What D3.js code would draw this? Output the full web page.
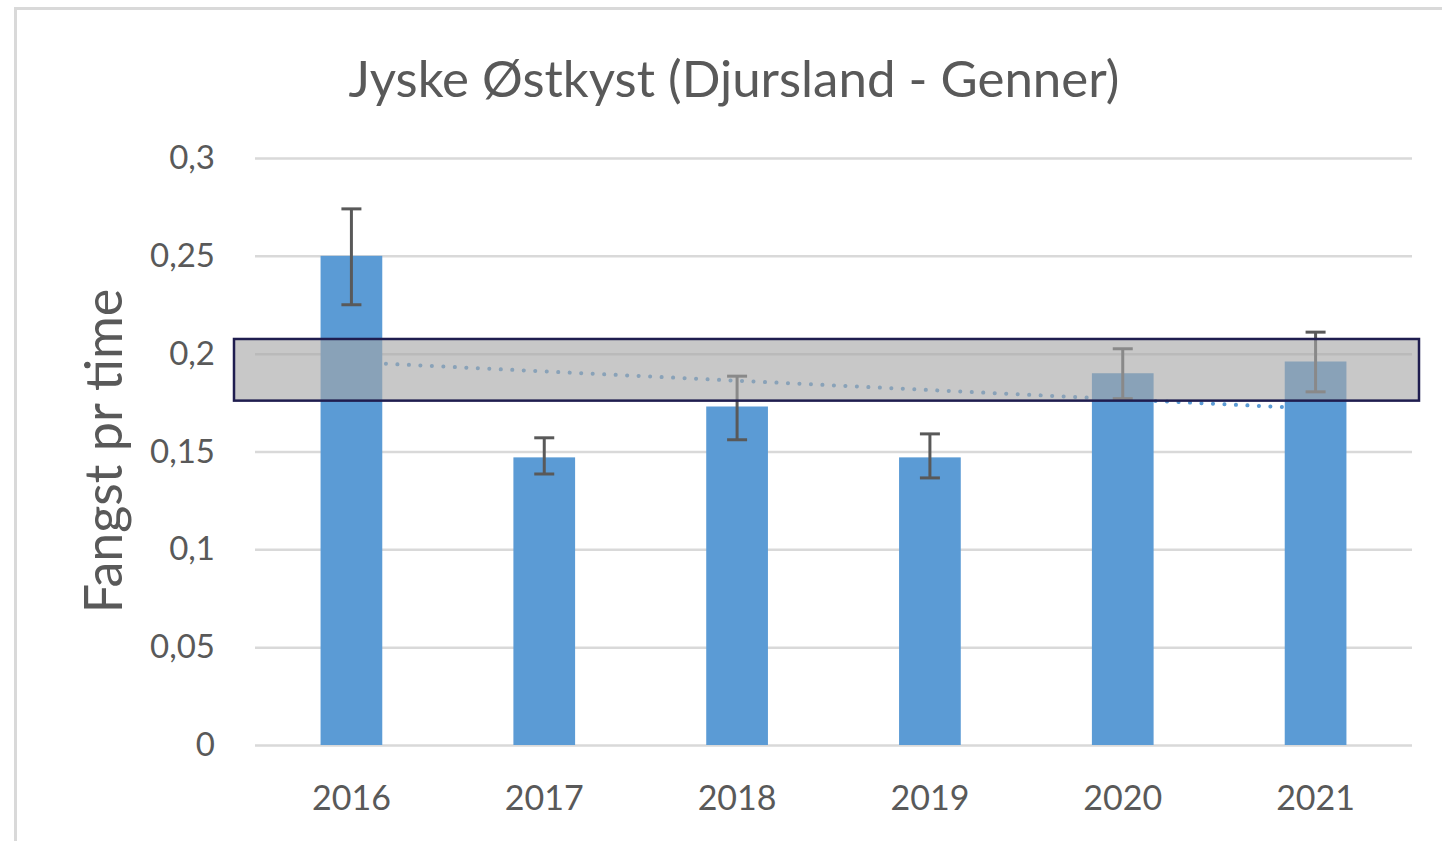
<!DOCTYPE html>
<html>
<head>
<meta charset="utf-8">
<script src="https://cdn.jsdelivr.net/npm/d3@7"></script>
<style>
  body { margin: 0; background: #fff; }
  svg { display: block; }
  text { font-family: Lato, "Open Sans", sans-serif; fill: #595959; }
</style>
</head>
<body>
<svg id="chart" width="1442" height="841"></svg>
<script>
// data
const years = ["2016", "2017", "2018", "2019", "2020", "2021"];
const catchPerHour = [0.25, 0.147, 0.173, 0.147, 0.19, 0.196];
const errUpper = [0.274, 0.157, 0.1885, 0.159, 0.2025, 0.211];
const errLower = [0.225, 0.1385, 0.156, 0.1365, 0.177, 0.1805];
const trendYears = ["2016", "2021"];
const trendValues = [0.1957, 0.1719];
const bandRange = [0.176, 0.2075];
const yTicks = [0, 0.05, 0.1, 0.15, 0.2, 0.25, 0.3];

const blue = "#5b9bd5";
const grid = "#d9d9d9";

const svg = d3.select("#chart");

// ramme
svg.append("rect")
    .attr("x", 15.5).attr("y", 8.5)
    .attr("width", 1460).attr("height", 860)
    .attr("fill", "#fff")
    .attr("stroke", grid)
    .attr("stroke-width", 3);

const plot = { left: 255, right: 1412, top: 158, bottom: 745 };

const x = d3.scaleBand()
    .domain(years)
    .range([plot.left, plot.right])
    .paddingInner(0.68)
    .paddingOuter(0.34);

const y = d3.scaleLinear()
    .domain([0, 0.3])
    .range([plot.bottom, plot.top]);

const da = d3.formatLocale({ decimal: ",", thousands: ".", grouping: [3], currency: ["", " kr"] });
const fmt = da.format("~g");

// gitterlinjer og y-akse
const yAxis = svg.append("g")
    .attr("transform", `translate(${plot.left},0)`)
    .call(d3.axisLeft(y).tickValues(yTicks).tickFormat(fmt).tickSize(-(plot.right - plot.left)).tickPadding(40));
yAxis.select(".domain").remove();
yAxis.selectAll(".tick line").attr("stroke", grid).attr("stroke-width", 2.5);
yAxis.selectAll(".tick text")
    .attr("font-size", 33)
    .attr("font-family", "Lato, sans-serif")
    .attr("fill", "#595959");

// x-akse
const xAxis = svg.append("g")
    .attr("transform", `translate(0,${plot.bottom})`)
    .call(d3.axisBottom(x).tickSize(0).tickPadding(41));
xAxis.select(".domain").remove();
xAxis.selectAll(".tick text")
    .attr("font-size", 34)
    .attr("font-family", "Lato, sans-serif")
    .attr("fill", "#595959");

// trendlinje (bag søjlerne)
const trendLine = d3.line()
    .x((d, i) => x(trendYears[i]) + x.bandwidth() / 2)
    .y(d => y(d));
svg.append("path")
    .datum(trendValues)
    .attr("d", trendLine)
    .attr("fill", "none")
    .attr("stroke", blue)
    .attr("stroke-width", 4)
    .attr("stroke-linecap", "round")
    .attr("stroke-dasharray", "0.1 11.4");

// søjler
svg.append("g")
    .selectAll("rect")
    .data(years)
    .join("rect")
    .attr("x", d => x(d))
    .attr("width", x.bandwidth())
    .attr("y", (d, i) => y(catchPerHour[i]))
    .attr("height", (d, i) => y(0) - y(catchPerHour[i]))
    .attr("fill", blue);

// fejlsøjler
const eb = svg.append("g")
    .attr("stroke", "#595959")
    .attr("stroke-width", 3)
    .selectAll("g")
    .data(years)
    .join("g")
    .attr("transform", d => `translate(${x(d) + x.bandwidth() / 2},0)`);
eb.append("line")
    .attr("y1", (d, i) => y(errUpper[i]))
    .attr("y2", (d, i) => y(errLower[i]));
eb.append("line")
    .attr("x1", -10).attr("x2", 10)
    .attr("y1", (d, i) => y(errUpper[i]))
    .attr("y2", (d, i) => y(errUpper[i]));
eb.append("line")
    .attr("x1", -10).attr("x2", 10)
    .attr("y1", (d, i) => y(errLower[i]))
    .attr("y2", (d, i) => y(errLower[i]));

// grå markering
svg.append("rect")
    .attr("x", 234)
    .attr("width", 1419 - 234)
    .attr("y", y(bandRange[1]))
    .attr("height", y(bandRange[0]) - y(bandRange[1]))
    .attr("fill", "#a7a7a7")
    .attr("fill-opacity", 0.62)
    .attr("stroke", "#1f1d4f")
    .attr("stroke-width", 2.5);

// titel
svg.append("text")
    .attr("x", 734)
    .attr("y", 97)
    .attr("text-anchor", "middle")
    .attr("font-size", 51)
    .text("Jyske Østkyst (Djursland - Genner)");

// y-aksetitel
svg.append("text")
    .attr("transform", `translate(122,451) rotate(-90)`)
    .attr("text-anchor", "middle")
    .attr("font-size", 52)
    .text("Fangst pr time");
</script>
</body>
</html>
